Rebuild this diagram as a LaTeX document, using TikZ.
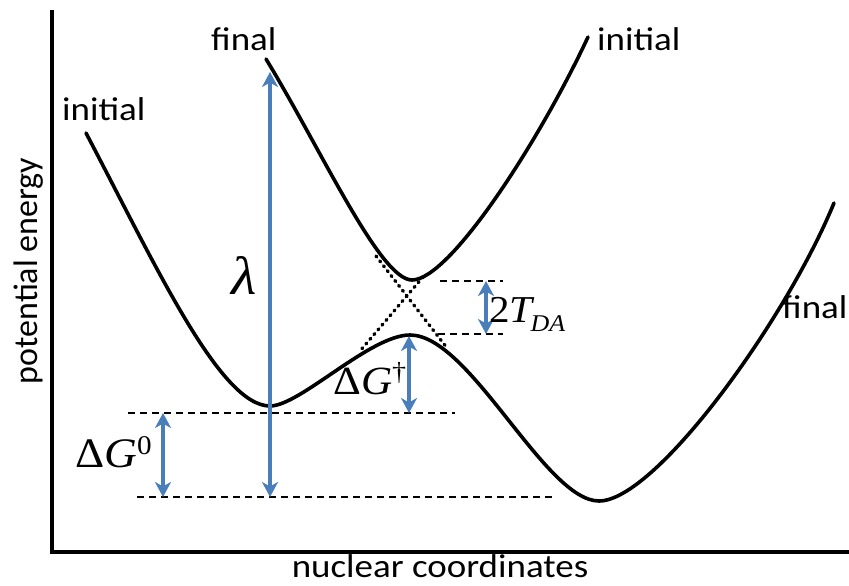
\documentclass[tikz,border=0pt]{standalone}
\usepackage{fontspec}
\setmainfont{Carlito}
\newfontfamily\tms{Liberation Serif}
\usetikzlibrary{arrows.meta}
\definecolor{arrblue}{RGB}{74,126,187}
\begin{document}
\begin{tikzpicture}[x=1pt,y=-1pt,
  curve/.style={line width=3.6pt, line join=round, line cap=round},
  axis/.style={line width=3.4pt},
  dashline/.style={line width=2pt, dash pattern=on 7pt off 5pt},
  dotline/.style={line width=3.4pt, dash pattern=on 1.2pt off 5pt, line cap=round},
  energy/.style={arrblue, line width=3.4pt,
    {Stealth[length=15pt,width=16pt,inset=4.5pt]}-{Stealth[length=15pt,width=16pt,inset=4.5pt]}},
  lab/.style={font=\fontsize{33}{36}\selectfont, inner sep=0pt, xscale=1.12},
  mlab/.style={font=\tms\fontsize{42}{46}\selectfont, inner sep=0pt, xscale=1.08}]
\useasboundingbox (0,0) rectangle (849,586);

% axes
\coordinate (axtop) at (52,10);
\coordinate (axorig) at (52,552);
\coordinate (axright) at (849,552);
\draw[axis] (axtop) -- (axorig) -- (axright);

% lower (ground) adiabatic curve
\coordinate (L0) at (86,133);
\coordinate (L1) at (270,406);
\coordinate (L2) at (410,335);
\coordinate (L3) at (599,501);
\coordinate (L4) at (834,203);
\draw[curve] (L0) .. controls (156,266) and (220,406) .. (L1)
  .. controls (300,406) and (370,335) .. (L2)
  .. controls (470,335) and (545,501) .. (L3)
  .. controls (655,501) and (785,322) .. (L4);

% upper adiabatic curve
\coordinate (U0) at (266,59);
\coordinate (U1) at (412,280);
\coordinate (U2) at (588,37);
\draw[curve] (U0) .. controls (321,149) and (380,280) .. (U1)
  .. controls (450,280) and (540,140) .. (U2);

% diabatic crossing (dotted)
\coordinate (dA1) at (376,256);
\coordinate (dA2) at (447,348);
\coordinate (dB1) at (423,277);
\coordinate (dB2) at (360,351);
\draw[dotline] (dA1) -- (dA2);
\draw[dotline] (dB1) -- (dB2);

% dashed levels
\coordinate (t1) at (440,281); \coordinate (t2) at (503,281);
\coordinate (b1) at (438,334); \coordinate (b2) at (503,334);
\coordinate (m1) at (128,413); \coordinate (m2) at (455,413);
\coordinate (g1) at (137,497); \coordinate (g2) at (556,497);
\draw[dashline] (t1) -- (t2);
\draw[dashline] (b1) -- (b2);
\draw[dashline] (m1) -- (m2);
\draw[dashline] (g1) -- (g2);

% energy arrows
\coordinate (lamT) at (270,72);  \coordinate (lamB) at (270,497);
\coordinate (g0T) at (163,413);  \coordinate (g0B) at (163,497);
\coordinate (gdT) at (409,336);  \coordinate (gdB) at (409,413);
\coordinate (tdT) at (486,281);  \coordinate (tdB) at (486,334);
\draw[energy] (lamB) -- (lamT);
\draw[energy] (g0B) -- (g0T);
\draw[energy] (gdB) -- (gdT);
\draw[energy] (tdB) -- (tdT);

% text labels
\node[lab, anchor=base west] (iniL) at (62,120) {initial};
\node[lab, anchor=base west] (finT) at (211,51) {final};
\node[lab, anchor=base west] (iniR) at (597,51) {initial};
\node[lab, anchor=base west] (finR) at (782,318) {final};
\node[lab, anchor=base] (xlab) at (440,577) {nuclear coordinates};
\node[font=\fontsize{34}{36}\selectfont, inner sep=0pt, rotate=90, anchor=base] (ylab) at (37,271) {potential energy};

% math labels
\node[mlab, anchor=base west, font=\tms\fontsize{54}{56}\selectfont\itshape] (lam) at (231,294) {λ};
\node[mlab, anchor=base west] (dg0) at (75,467) {Δ\textit{G}\raisebox{13pt}{\fontsize{27}{27}\selectfont 0}};
\node[mlab, anchor=base west, font=\tms\fontsize{40}{44}\selectfont] (dgd) at (333,394) {Δ\textit{G}\raisebox{14pt}{\fontsize{26}{26}\selectfont †}};
\node[mlab, anchor=base west, font=\tms\fontsize{38}{42}\selectfont] (tda) at (489,322) {2\textit{T}\kern-4pt\raisebox{-9pt}{\fontsize{24}{24}\selectfont\itshape DA}};
\end{tikzpicture}
\end{document}
